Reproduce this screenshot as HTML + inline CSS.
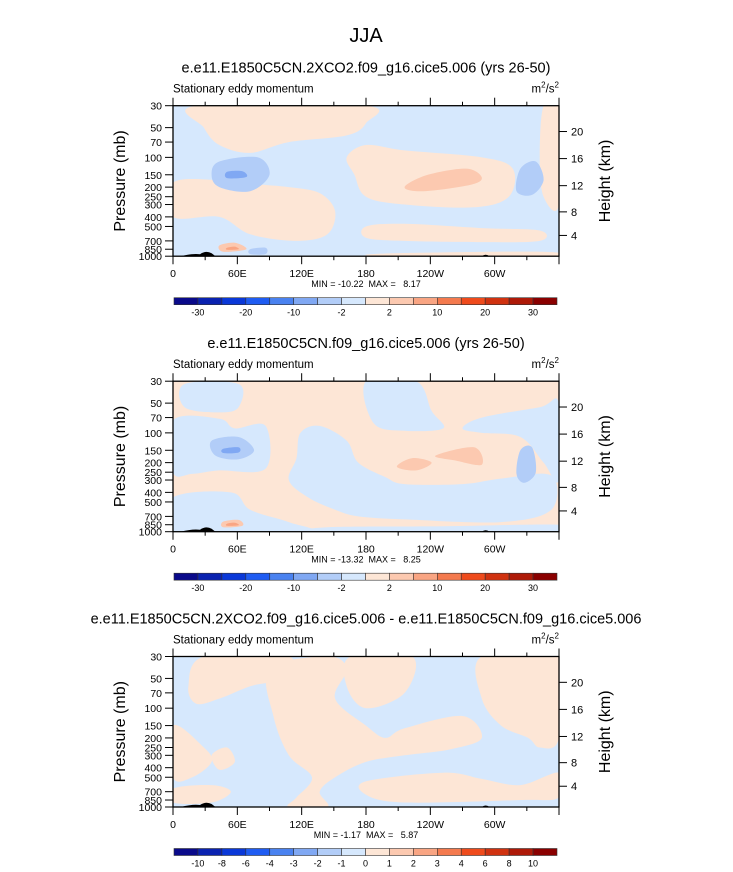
<!DOCTYPE html>
<html><head><meta charset="utf-8"><style>
html,body{margin:0;padding:0;background:#fff}
svg{display:block;font-family:"Liberation Sans",sans-serif}
</style></head><body>
<svg id="chart" width="733" height="872" viewBox="0 0 733 872" xmlns="http://www.w3.org/2000/svg">
<text x="366" y="42" font-size="20" text-anchor="middle">JJA</text>
</svg>
<script>
const NS="http://www.w3.org/2000/svg";
const svg=document.getElementById('chart');
const pressureTicks=[30,50,70,100,150,200,250,300,400,500,700,850,1000];
const heightTicks=[4,8,12,16,20];
const lonTicks=[0,60,120,180,240,300];
const lonLabels=["0","60E","120E","180","120W","60W"];
const levelColors=["#0a0a8a","#0a22b0","#0a38d8","#1f5cf2","#4a82f0","#80a8f3","#b2cdf8","#d6e8fd","#fde6d6","#fcc9b0","#f9a583","#f47a4e","#ef4b1c","#d03210","#ae1a08","#8a0000"];
const cbLabelsA=["-30","-20","-10","-2","2","10","20","30"];
const cbLabelsB=["-10","-8","-6","-4","-3","-2","-1","0","1","2","3","4","6","8","10"];
const titles=["e.e11.E1850C5CN.2XCO2.f09_g16.cice5.006 (yrs 26-50)","e.e11.E1850C5CN.f09_g16.cice5.006 (yrs 26-50)","e.e11.E1850C5CN.2XCO2.f09_g16.cice5.006 - e.e11.E1850C5CN.f09_g16.cice5.006"];
const minVals=["-10.22","-13.32","-1.17"];
const maxVals=["8.17","8.25","5.87"];
// contour regions: [colorIndex, [[lonFraction, pressure],...]]
const regions1=[
[8,[[.06,30],[.5,30],[.5,45],[.45,60],[.3,70],[.2,90],[.12,75],[.08,50]]],
[8,[[.45,100],[.5,75],[.6,85],[.8,100],[.88,130],[.87,250],[.78,320],[.6,300],[.5,250],[.47,150]]],
[8,[[.96,30],[1,30],[1,300],[.96,250],[.95,100]]],
[8,[[0,180],[.12,170],[.2,185],[.3,200],[.38,230],[.42,350],[.4,600],[.32,700],[.2,600],[.12,400],[0,400]]],
[8,[[.5,500],[.6,470],[.8,520],[.95,550],[.95,700],[.8,720],[.6,700],[.5,650]]],
[8,[[.55,940],[.95,900],[.99,1000],[.55,1000]]],
[6,[[.12,110],[.22,100],[.25,150],[.2,220],[.12,200],[.1,150]]],
[5,[[.14,140],[.18,138],[.19,158],[.14,162]]],
[6,[[.9,130],[.94,110],[.96,170],[.93,240],[.89,220]]],
[9,[[.6,200],[.66,150],[.76,130],[.8,160],[.77,190],[.65,220]]],
[9,[[.12,780],[.16,730],[.19,850],[.13,900]]],
[10,[[.14,820],[.16,800],[.17,850],[.14,860]]],
[6,[[.2,850],[.24,820],[.24,950],[.2,950]]]
];
const regions2=[
[7,[[.03,32],[.17,32],[.17,55],[.12,62],[.03,55]]],
[7,[[0,75],[.12,72],[.16,90],[.24,85],[.24,230],[.12,240],[.05,260],[0,250]]],
[6,[[.1,120],[.17,110],[.21,150],[.17,185],[.11,170]]],
[5,[[.13,145],[.17,140],[.17,158],[.13,160]]],
[7,[[.5,30],[.63,30],[.67,60],[.7,90],[.6,95],[.52,80]]],
[7,[[.75,90],[.8,70],[.95,55],[1,50],[1,300],[.96,200],[.9,110],[.8,100]]],
[7,[[.33,100],[.38,85],[.45,120],[.48,200],[.55,280],[.6,330],[.75,330],[.85,290],[.98,270],[.98,600],[.85,800],[.6,750],[.48,700],[.42,600],[.35,450],[.3,300],[.32,180]]],
[7,[[0,450],[.15,400],[.2,600],[.3,800],[.35,1000],[0,1000]]],
[7,[[.4,900],[.7,880],[1,850],[1,1000],[.4,1000]]],
[6,[[.9,150],[.93,140],[.94,250],[.91,320],[.89,260]]],
[9,[[.58,220],[.62,180],[.67,200],[.63,240]]],
[9,[[.68,170],[.78,140],[.8,210],[.73,190]]],
[9,[[.13,790],[.17,760],[.18,870],[.13,900]]],
[10,[[.14,830],[.16,810],[.17,860],[.14,870]]]
];
const regions3=[
[8,[[.04,60],[.08,30],[.3,30],[.28,50],[.2,60],[.12,80],[.06,90]]],
[8,[[.25,40],[.4,30],[.45,40],[.42,80],[.5,150],[.55,200],[.6,160],[.75,120],[.8,200],[.72,260],[.6,300],[.5,350],[.42,500],[.38,700],[.4,1000],[.3,1000],[.32,800],[.36,500],[.3,300],[.26,120]]],
[8,[[.8,30],[1,30],[1,200],[.95,250],[.92,200],[.85,150],[.8,80]]],
[8,[[.46,30],[.62,30],[.6,70],[.5,100],[.45,60]]],
[8,[[.5,550],[.7,450],[.8,520],[.9,600],[1,450],[1,800],[.9,850],[.6,900],[.5,750]]],
[8,[[0,150],[.08,250],[.1,350],[.05,500],[0,500]]],
[8,[[0,650],[.1,600],[.15,700],[.1,900],[0,900]]],
[8,[[.1,300],[.14,250],[.16,350],[.12,420]]]
];
const bgColors=[7,8,7];
const allRegions=[regions1,regions2,regions3];

function el(tag,attrs,parent,txt){const e=document.createElementNS(NS,tag);for(const k in attrs)e.setAttribute(k,attrs[k]);if(txt!==undefined)e.textContent=txt;(parent||svg).appendChild(e);return e;}
const X0=173,X1=559,PH=150.5;
const offsets=[105.7,381.2,656.5];
function xOf(f){return X0+f*(X1-X0);}
function lonX(l){return X0+l/360*(X1-X0);}
function yOf(p,top){return top+(Math.log10(p)-Math.log10(30))/(Math.log10(1000)-Math.log10(30))*PH;}
function kmToP(z){z*=1000;if(z<=11000)return 1013.25*Math.pow(1-2.25577e-5*z,5.25588);return 226.32*Math.exp(-0.000157688*(z-11000));}
function smooth(pts){let d="";const n=pts.length;for(let i=0;i<n;i++){const p0=pts[(i-1+n)%n],p1=pts[i],p2=pts[(i+1)%n],p3=pts[(i+2)%n];if(i===0)d+="M"+p1[0].toFixed(1)+","+p1[1].toFixed(1);const c1=[p1[0]+(p2[0]-p0[0])/6,p1[1]+(p2[1]-p0[1])/6],c2=[p2[0]-(p3[0]-p1[0])/6,p2[1]-(p3[1]-p1[1])/6];d+="C"+c1.map(v=>v.toFixed(1))+" "+c2.map(v=>v.toFixed(1))+" "+p2.map(v=>v.toFixed(1));}return d+"Z";}

offsets.forEach((top,k)=>{
  const g=el('g',{});
  
  
  const bot=top+PH;
  const t=el('text',{x:366,y:top-33,'font-size':14.5,'text-anchor':'middle'},g,titles[k]);
  
  const s=el('text',{x:173,y:top-13,'font-size':11.5},g,'Stationary eddy momentum');
  
  const u=el('text',{x:559,y:top-13,'font-size':11.5,'text-anchor':'end'},g);
  
  u.innerHTML='m<tspan font-size="8" dy="-5">2</tspan><tspan dy="5">/s</tspan><tspan font-size="8" dy="-5">2</tspan>';
  const clip=el('clipPath',{id:'c'+k},g);el('rect',{x:X0,y:top,width:X1-X0,height:PH},clip);
  const pg=el('g',{'clip-path':'url(#c'+k+')'},g);
  const bg=el('rect',{x:X0,y:top,width:X1-X0,height:PH,fill:levelColors[bgColors[k]]},pg);
  
  allRegions[k].forEach(r=>{
    const pts=r[1].map(q=>[xOf(q[0]),yOf(q[1],top)]);
    const path=el('path',{d:smooth(pts),fill:levelColors[r[0]]},pg);
    
  });
  const topo=el('path',{d:`M${xOf(.02)},${bot} Q${xOf(.05)},${bot-3} ${xOf(.07)},${bot-2} Q${xOf(.085)},${bot-6} ${xOf(.1)},${bot-3} L${xOf(.11)},${bot} Z M${xOf(.8)},${bot} Q${xOf(.81)},${bot-3} ${xOf(.82)},${bot} Z`,fill:'#000'},pg);
  
  const frame=el('rect',{x:X0,y:top,width:X1-X0,height:PH,fill:'none',stroke:'#000','stroke-width':1.3},g);
  
  pressureTicks.forEach(p=>{const y=yOf(p,top);el('line',{x1:X0-8,x2:X0,y1:y,y2:y,stroke:'#000'},g);
    const tl=el('text',{x:X0-11,y:y+4,'font-size':10.5,'text-anchor':'end'},g,String(p));
    });
  heightTicks.forEach(z=>{const y=yOf(kmToP(z),top);el('line',{x1:X1,x2:X1+8,y1:y,y2:y,stroke:'#000'},g);
    const tl=el('text',{x:X1+12,y:y+4,'font-size':11,},g,String(z));
    });
  for(let l=0;l<=360;l+=30){const x=lonX(l),len=(l%60===0)?8:4;
    el('line',{x1:x,x2:x,y1:top-len,y2:top,stroke:'#000'},g);el('line',{x1:x,x2:x,y1:bot,y2:bot+len,stroke:'#000'},g);}
  lonTicks.forEach((l,i)=>{const tl=el('text',{x:lonX(l),y:bot+21,'font-size':10.5,'text-anchor':'middle'},g,lonLabels[i]);
    });
  const yl=el('text',{transform:`translate(125,${top+PH/2}) rotate(-90)`,'font-size':16,'text-anchor':'middle'},g,'Pressure (mb)');
  
  const yr=el('text',{transform:`translate(610,${top+PH/2}) rotate(-90)`,'font-size':16,'text-anchor':'middle'},g,'Height (km)');
  
  const mm=el('text',{x:366,y:bot+31,'font-size':9,'text-anchor':'middle',style:'white-space:pre'},g,'MIN = '+minVals[k]+'  MAX =   '+maxVals[k]);
  
  const cb=el('g',{},g);
  const cy=bot+41.5,cw=(557-174)/16;
  levelColors.forEach((c,i)=>{const r=el('rect',{x:174+i*cw,y:cy,width:cw,height:7,fill:c,stroke:'#333','stroke-width':0.6},cb);
    });
  const labs=k<2?cbLabelsA:cbLabelsB;
  labs.forEach((lb,i)=>{const b=k<2?(2*i+1):(i+1);const tl=el('text',{x:174+b*cw,y:cy+18,'font-size':9,'text-anchor':'middle'},cb,lb);
    });
});
</script>
</body></html>
